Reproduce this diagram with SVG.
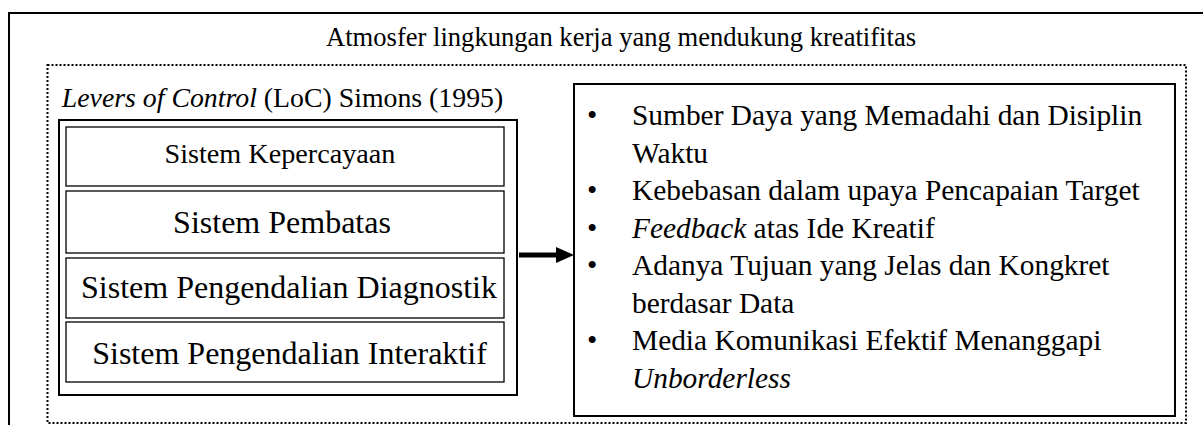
<svg xmlns="http://www.w3.org/2000/svg" width="1203" height="425" viewBox="0 0 1203 425">
  <style>
    text { font-family: 'Liberation Serif', 'Times New Roman', serif; fill: #000; }
    .title { font-size: 26.6px; }
    .loc-title { font-size: 27.8px; }
    .row { font-size: 32px; }
    .row1 { font-size: 28.2px; }
    .item { font-size: 29.4px; }
    .box { fill: #fff; stroke: #000; stroke-width: 2; }
    .cell { fill: #fff; stroke: #000; stroke-width: 1.3; }
    .dot { fill: none; stroke: #000; stroke-width: 2; stroke-dasharray: 2 2; }
  </style>
  <rect width="1203" height="425" fill="#fff"/>

  <!-- outer frame -->
  <g id="frame">
    <rect x="9" y="13" width="1210" height="430" fill="none" stroke="#000" stroke-width="2"/>
    <text class="title" x="621" y="46" text-anchor="middle">Atmosfer lingkungan kerja yang mendukung kreatifitas</text>
  </g>

  <!-- dotted environment boundary -->
  <g id="environment">
    <rect class="dot" x="47.5" y="65" width="1138.5" height="358"/>
  </g>

  <!-- Levers of Control block -->
  <g id="loc">
    <text class="loc-title" x="282.5" y="107" text-anchor="middle"><tspan font-style="italic">Levers of Control</tspan> (LoC) Simons (1995)</text>
    <rect class="box" x="59" y="120" width="458" height="275"/>
  </g>
  <g id="sistem-kepercayaan">
    <rect class="cell" x="66" y="127" width="438" height="59"/>
    <text class="row1" x="280" y="163" text-anchor="middle">Sistem Kepercayaan</text>
  </g>
  <g id="sistem-pembatas">
    <rect class="cell" x="66" y="191" width="438" height="62"/>
    <text class="row" x="282" y="233" text-anchor="middle">Sistem Pembatas</text>
  </g>
  <g id="sistem-diagnostik">
    <rect class="cell" x="66" y="258" width="438" height="60"/>
    <text class="row" x="289" y="298" text-anchor="middle">Sistem Pengendalian Diagnostik</text>
  </g>
  <g id="sistem-interaktif">
    <rect class="cell" x="66" y="322" width="438" height="60"/>
    <text class="row" x="289.5" y="364" text-anchor="middle">Sistem Pengendalian Interaktif</text>
  </g>

  <!-- outcomes list -->
  <g id="outcomes">
    <rect class="box" x="574" y="84" width="601" height="332"/>
    <text class="item" x="587" y="125">•</text>
    <text class="item" x="632" y="125">Sumber Daya yang Memadahi dan Disiplin</text>
    <text class="item" x="632" y="162.5">Waktu</text>
    <text class="item" x="587" y="200">•</text>
    <text class="item" x="632" y="200">Kebebasan dalam upaya Pencapaian Target</text>
    <text class="item" x="587" y="237.5">•</text>
    <text class="item" x="632" y="237.5"><tspan font-style="italic">Feedback</tspan> atas Ide Kreatif</text>
    <text class="item" x="587" y="275">•</text>
    <text class="item" x="632" y="275">Adanya Tujuan yang Jelas dan Kongkret</text>
    <text class="item" x="632" y="312.5">berdasar Data</text>
    <text class="item" x="587" y="350">•</text>
    <text class="item" x="632" y="350">Media Komunikasi Efektif Menanggapi</text>
    <text class="item" x="632" y="387.5" font-style="italic">Unborderless</text>
  </g>

  <!-- connector -->
  <g id="connectors">
    <line x1="519" y1="255" x2="559" y2="255" stroke="#000" stroke-width="5"/>
    <polygon points="556,247 574,255 556,263" fill="#000"/>
  </g>
</svg>
